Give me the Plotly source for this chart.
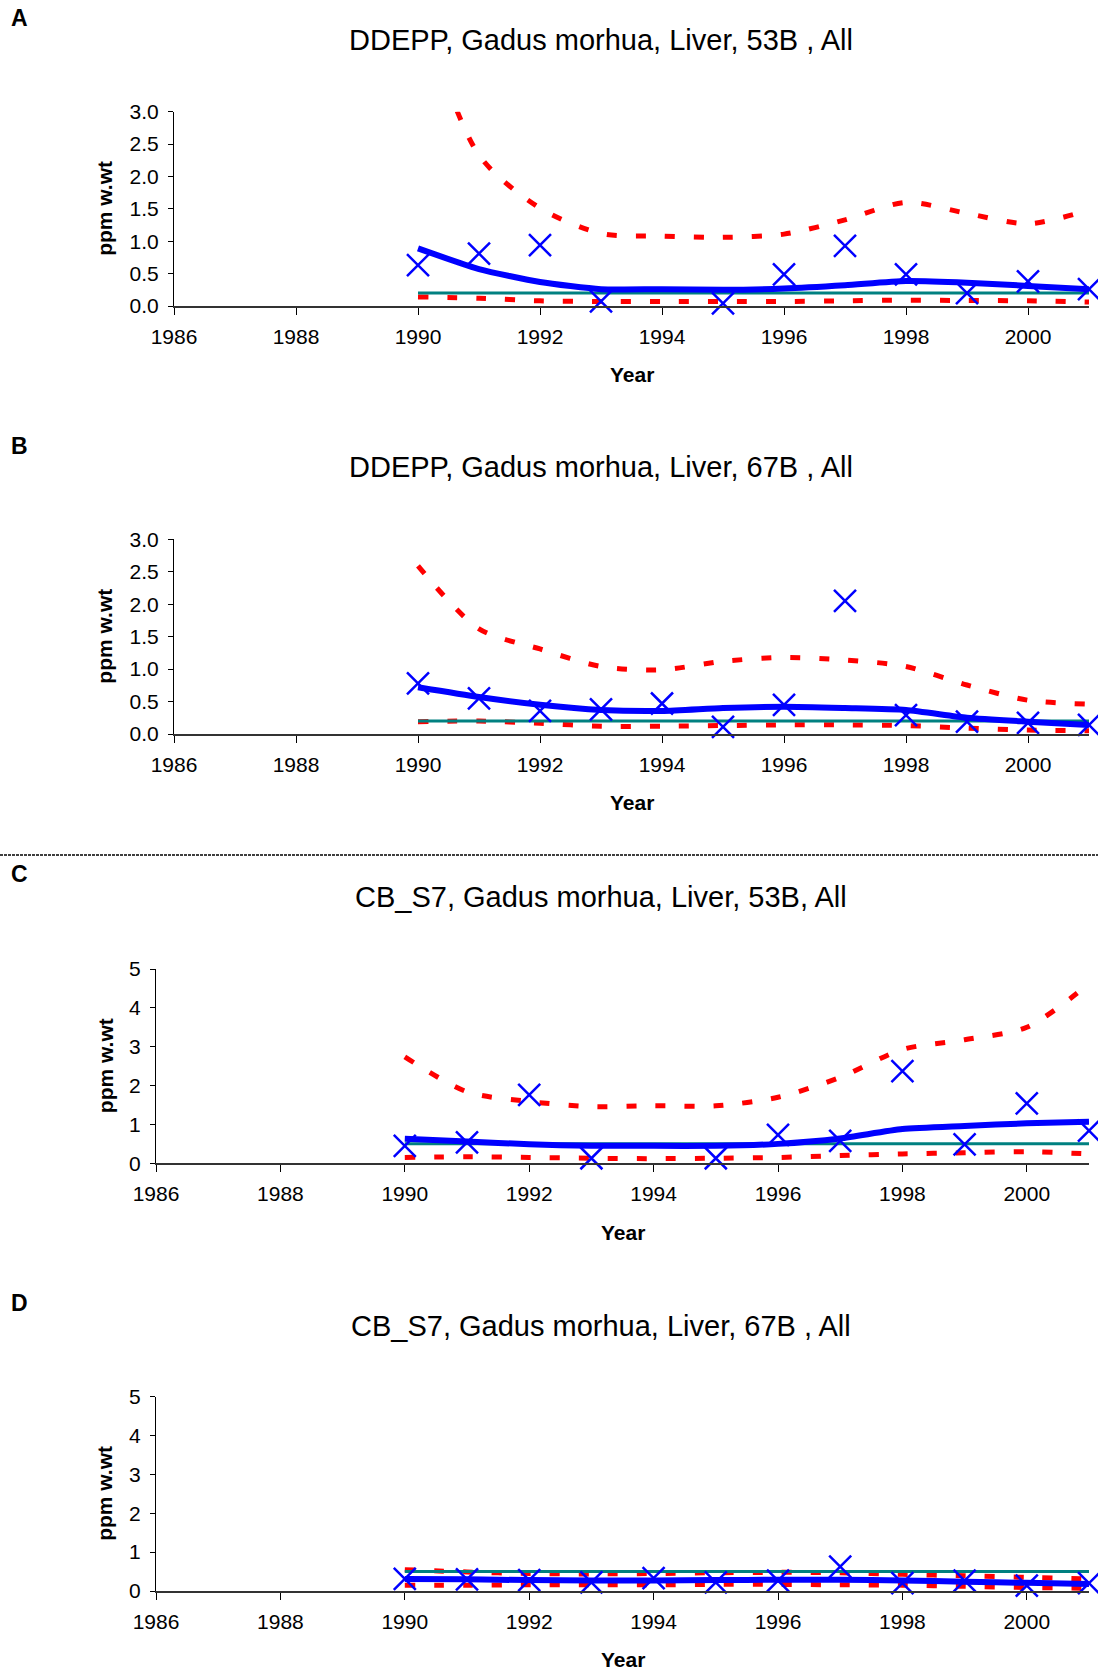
import plotly.graph_objects as go

W, H = 1098, 1669
FONT = "Liberation Sans, Arial, sans-serif"

# ---------------- data ----------------
years = [1990, 1991, 1992, 1993, 1994, 1995, 1996, 1997, 1998, 1999, 2000, 2001]
x_tick_years = [1986, 1988, 1990, 1992, 1994, 1996, 1998, 2000]

# Panel A: DDEPP, 53B
a_obs_years = [1990, 1991, 1992, 1993, 1995, 1996, 1997, 1998, 1999, 2000, 2001]
a_obs = [0.63, 0.81, 0.94, 0.07, 0.04, 0.49, 0.93, 0.49, 0.20, 0.38, 0.26]
a_trend = [0.89, 0.57, 0.37, 0.26, 0.26, 0.25, 0.27, 0.32, 0.385, 0.36, 0.31, 0.26]
a_upper = [4.7, 2.33, 1.51, 1.12, 1.08, 1.06, 1.11, 1.33, 1.60, 1.43, 1.27, 1.48]
a_lower = [0.14, 0.12, 0.08, 0.07, 0.07, 0.07, 0.07, 0.08, 0.09, 0.085, 0.08, 0.06]
a_ref = 0.2

# Panel B: DDEPP, 67B
b_obs_years = [1990, 1991, 1992, 1993, 1994, 1995, 1996, 1997, 1998, 1999, 2000, 2001]
b_obs = [0.78, 0.55, 0.355, 0.38, 0.47, 0.11, 0.45, 2.05, 0.29, 0.19, 0.17, 0.14]
b_trend = [0.72, 0.57, 0.45, 0.37, 0.355, 0.40, 0.42, 0.40, 0.37, 0.25, 0.19, 0.14]
b_upper = [2.59, 1.62, 1.31, 1.04, 0.99, 1.12, 1.18, 1.14, 1.04, 0.755, 0.52, 0.46]
b_lower = [0.19, 0.20, 0.165, 0.12, 0.12, 0.13, 0.14, 0.14, 0.13, 0.09, 0.06, 0.05]
b_ref = 0.2

# Panel C: CB_S7, 53B
c_obs_years = [1990, 1991, 1992, 1993, 1995, 1996, 1997, 1998, 1999, 2000, 2001]
c_obs = [0.45, 0.54, 1.76, 0.13, 0.13, 0.73, 0.58, 2.37, 0.49, 1.54, 0.84]
c_trend = [0.63, 0.56, 0.49, 0.45, 0.45, 0.45, 0.50, 0.64, 0.88, 0.96, 1.03, 1.07]
c_upper = [2.74, 1.84, 1.59, 1.46, 1.48, 1.48, 1.70, 2.21, 2.93, 3.18, 3.50, 4.62]
c_lower = [0.15, 0.17, 0.15, 0.13, 0.12, 0.13, 0.15, 0.20, 0.24, 0.27, 0.30, 0.24]
c_ref = 0.5

# Panel D: CB_S7, 67B
d_obs_years = [1990, 1991, 1992, 1993, 1994, 1995, 1996, 1997, 1998, 1999, 2000, 2001]
d_obs = [0.31, 0.30, 0.28, 0.22, 0.33, 0.22, 0.27, 0.63, 0.20, 0.27, 0.14, 0.20]
d_trend = [0.31, 0.30, 0.28, 0.27, 0.27, 0.28, 0.29, 0.29, 0.27, 0.24, 0.21, 0.18]
d_upper = [0.55, 0.49, 0.45, 0.44, 0.45, 0.47, 0.48, 0.47, 0.43, 0.39, 0.35, 0.31]
d_lower = [0.15, 0.15, 0.16, 0.16, 0.16, 0.17, 0.17, 0.16, 0.15, 0.12, 0.09, 0.07]
d_ref = 0.5

letters = ["A", "B", "C", "D"]
titles = [
    "DDEPP, Gadus morhua, Liver, 53B , All",
    "DDEPP, Gadus morhua, Liver, 67B , All",
    "CB_S7, Gadus morhua, Liver, 53B, All",
    "CB_S7, Gadus morhua, Liver, 67B , All",
]
y_max = [3.0, 3.0, 5, 5]
y_dtick = [0.5, 0.5, 1, 1]
y_fmt = [".1f", ".1f", "d", "d"]
x_label = "Year"
y_label = "ppm w.wt"

series = [
    (a_obs_years, a_obs, a_trend, a_upper, a_lower, a_ref),
    (b_obs_years, b_obs, b_trend, b_upper, b_lower, b_ref),
    (c_obs_years, c_obs, c_trend, c_upper, c_lower, c_ref),
    (d_obs_years, d_obs, d_trend, d_upper, d_lower, d_ref),
]

# ---------------- layout geometry (pixels) ----------------
geom = [
    dict(x0=174, x1=1089, ytop=111.7, ybot=306.0, title_y=40, letter_y=18, year_y=374),
    dict(x0=174, x1=1089, ytop=539.3, ybot=734.0, title_y=467, letter_y=446, year_y=802),
    dict(x0=156, x1=1089, ytop=969.0, ybot=1163.3, title_y=897, letter_y=874, year_y=1232),
    dict(x0=156, x1=1089, ytop=1396.7, ybot=1591.0, title_y=1326, letter_y=1303, year_y=1659),
]


def px(x):
    return x / W


def py(y):
    return 1 - y / H


fig = go.Figure()
annotations = []
layout_axes = {}

for i, (g, (oy, ov, tr, up, lo, ref)) in enumerate(zip(geom, series)):
    n = "" if i == 0 else str(i + 1)
    xa, ya = "x" + n, "y" + n
    red = dict(color="#FF0000", width=5, dash="10px,19px", shape="spline", smoothing=0.8)
    fig.add_trace(go.Scatter(x=years, y=lo, mode="lines", line=red, xaxis=xa, yaxis=ya,
                             showlegend=False, hoverinfo="skip"))
    fig.add_trace(go.Scatter(x=years, y=up, mode="lines", line=red, xaxis=xa, yaxis=ya,
                             showlegend=False, hoverinfo="skip"))
    fig.add_trace(go.Scatter(x=[years[0], years[-1]], y=[ref, ref], mode="lines",
                             line=dict(color="#008080", width=3), xaxis=xa, yaxis=ya,
                             showlegend=False, hoverinfo="skip"))
    fig.add_trace(go.Scatter(x=years, y=tr, mode="lines",
                             line=dict(color="#0000FF", width=6, shape="spline", smoothing=0.6),
                             xaxis=xa, yaxis=ya, showlegend=False, hoverinfo="skip"))
    fig.add_trace(go.Scatter(x=oy, y=ov, mode="markers",
                             marker=dict(symbol="x-thin", size=22,
                                         line=dict(color="#0000FF", width=2.5)),
                             cliponaxis=False, xaxis=xa, yaxis=ya,
                             showlegend=False, hoverinfo="skip"))

    layout_axes["xaxis" + n] = dict(
        domain=[px(g["x0"]), px(g["x1"])], anchor=ya, range=[1986, 2001], automargin=False,
        tickvals=x_tick_years, ticks="outside", ticklen=7, tickwidth=1, tickcolor="#000",
        ticklabelstandoff=4,
        showline=True, linecolor="#333", linewidth=1.5, showgrid=False, zeroline=False,
        tickfont=dict(family=FONT, size=21, color="#000"), fixedrange=True,
    )
    layout_axes["yaxis" + n] = dict(
        domain=[py(g["ybot"]), py(g["ytop"])], anchor=xa, range=[0, y_max[i]], automargin=False,
        dtick=y_dtick[i], tick0=0, tickformat=y_fmt[i], ticks="outside", ticklen=5,
        ticklabelstandoff=5,
        tickwidth=1, tickcolor="#000", showline=True, linecolor="#000", linewidth=1,
        showgrid=False, zeroline=False,
        tickfont=dict(family=FONT, size=21, color="#000"), fixedrange=True,
    )

    annotations.append(dict(text=titles[i], x=px(601), y=py(g["title_y"]), xref="paper",
                            yref="paper", xanchor="center", yanchor="middle", showarrow=False,
                            font=dict(family=FONT, size=29, color="#000")))
    annotations.append(dict(text=letters[i], x=px(9), y=py(g["letter_y"]), xref="paper",
                            yref="paper", xanchor="left", yanchor="middle", showarrow=False,
                            font=dict(family=FONT, size=23, color="#000", weight="bold")))
    annotations.append(dict(text=x_label, x=px((g["x0"] + g["x1"]) / 2), y=py(g["year_y"]),
                            xref="paper", yref="paper", xanchor="center", yanchor="middle",
                            showarrow=False,
                            font=dict(family=FONT, size=21, color="#000", weight="bold")))
    annotations.append(dict(text=y_label, x=px(105), y=py((g["ytop"] + g["ybot"]) / 2),
                            xref="paper", yref="paper", xanchor="center", yanchor="middle",
                            textangle=-90, showarrow=False,
                            font=dict(family=FONT, size=21, color="#000", weight="bold")))

fig.update_layout(
    width=W, height=H, margin=dict(l=0, r=0, t=0, b=0, pad=0), autosize=False,
    paper_bgcolor="white", plot_bgcolor="white",
    annotations=annotations,
    shapes=[dict(type="line", xref="paper", yref="paper", x0=0, x1=1, y0=py(855), y1=py(855),
                 line=dict(color="#000", width=1.5, dash="3px,1px"))],
    **layout_axes,
)

fig.write_html("out.html", config={"displayModeBar": False},
               post_script="document.body.style.margin='0px';")
